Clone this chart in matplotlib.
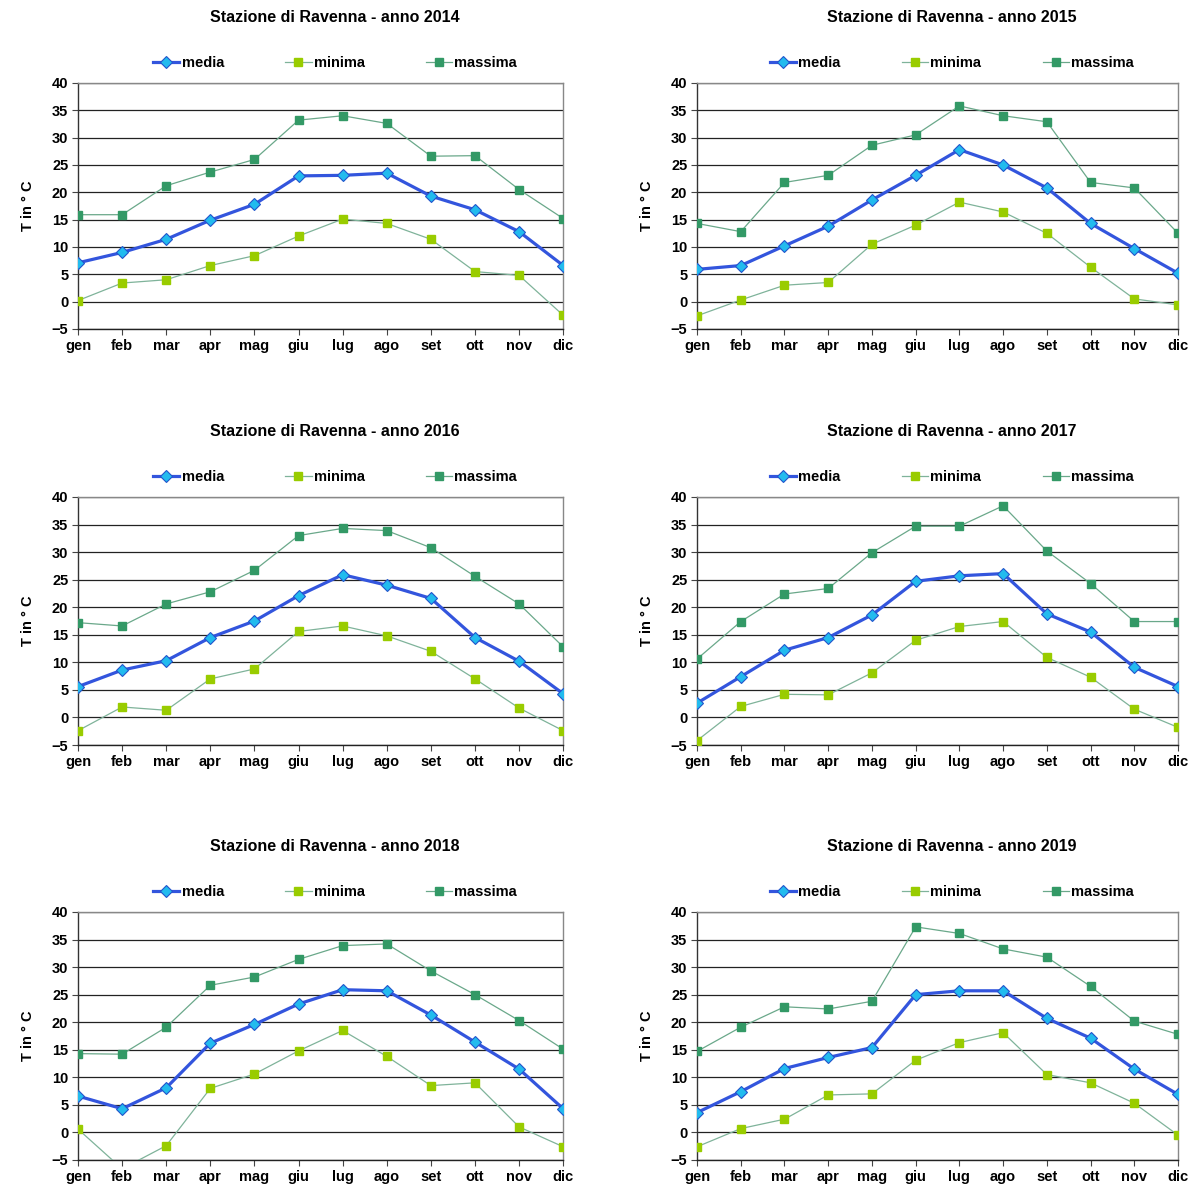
import numpy as np
import matplotlib
matplotlib.use('Agg')
import matplotlib.pyplot as plt

plt.rcParams['font.family'] = ['Liberation Sans', 'DejaVu Sans']
plt.rcParams['font.weight'] = 'bold'

mesi = ['gen', 'feb', 'mar', 'apr', 'mag', 'giu', 'lug', 'ago', 'set', 'ott', 'nov', 'dic']
anni = [2014, 2015, 2016, 2017, 2018, 2019]

# temperature medie mensili
media_2014 = [7.1, 9.0, 11.4, 14.9, 17.8, 23.0, 23.1, 23.5, 19.3, 16.8, 12.8, 6.6]
media_2015 = [5.9, 6.6, 10.2, 13.8, 18.6, 23.1, 27.8, 25.0, 20.8, 14.3, 9.7, 5.2]
media_2016 = [5.6, 8.6, 10.3, 14.5, 17.5, 22.1, 25.9, 24.0, 21.6, 14.5, 10.2, 4.3]
media_2017 = [2.6, 7.4, 12.2, 14.5, 18.6, 24.7, 25.7, 26.1, 18.8, 15.5, 9.1, 5.6]
media_2018 = [6.6, 4.3, 8.1, 16.2, 19.6, 23.3, 25.9, 25.7, 21.3, 16.4, 11.5, 4.3]
media_2019 = [3.6, 7.4, 11.6, 13.6, 15.4, 25.0, 25.7, 25.7, 20.7, 17.1, 11.5, 6.9]

# temperature minime
minima_2014 = [0.2, 3.4, 4.0, 6.6, 8.4, 12.0, 15.1, 14.3, 11.4, 5.5, 4.8, -2.5]
minima_2015 = [-2.6, 0.3, 3.0, 3.5, 10.5, 14.0, 18.2, 16.4, 12.5, 6.3, 0.5, -0.6]
minima_2016 = [-2.4, 1.9, 1.3, 7.0, 8.8, 15.6, 16.6, 14.8, 12.0, 7.0, 1.7, -2.4]
minima_2017 = [-4.2, 2.0, 4.2, 4.1, 8.1, 14.0, 16.5, 17.4, 10.9, 7.3, 1.5, -1.8]
minima_2018 = [0.6, -6.6, -2.4, 8.0, 10.6, 14.8, 18.5, 13.8, 8.5, 9.0, 1.0, -2.6]
minima_2019 = [-2.6, 0.7, 2.4, 6.8, 7.0, 13.1, 16.3, 18.1, 10.5, 9.0, 5.3, -0.5]

# temperature massime
massima_2014 = [15.9, 15.9, 21.2, 23.7, 26.0, 33.2, 34.0, 32.6, 26.6, 26.7, 20.5, 15.2]
massima_2015 = [14.3, 12.8, 21.8, 23.1, 28.6, 30.5, 35.8, 34.0, 32.9, 21.8, 20.8, 12.5]
massima_2016 = [17.2, 16.6, 20.6, 22.8, 26.7, 33.0, 34.3, 33.9, 30.8, 25.6, 20.6, 12.8]
massima_2017 = [10.6, 17.4, 22.4, 23.4, 29.9, 34.7, 34.7, 38.4, 30.2, 24.3, 17.4, 17.4]
massima_2018 = [14.3, 14.2, 19.1, 26.7, 28.2, 31.4, 33.9, 34.2, 29.3, 25.0, 20.3, 15.1]
massima_2019 = [14.7, 19.1, 22.8, 22.4, 23.8, 37.3, 36.1, 33.3, 31.8, 26.5, 20.2, 17.8]

medie = [media_2014, media_2015, media_2016, media_2017, media_2018, media_2019]
minime = [minima_2014, minima_2015, minima_2016, minima_2017, minima_2018, minima_2019]
massime = [massima_2014, massima_2015, massima_2016, massima_2017, massima_2018, massima_2019]

fig = plt.figure(figsize=(11.95, 11.85), dpi=100)

# posizioni dei riquadri (frazioni della figura)
lefts = [0.0653, 0.5833]
widths = [0.406, 0.4025]
bottoms = [0.7224, 0.3713, 0.0211]
heights = [0.2076, 0.2093, 0.2093]

x = np.arange(len(mesi))
for i, anno in enumerate(anni):
    r, c = divmod(i, 2)
    ax = fig.add_axes([lefts[c], bottoms[r], widths[c], heights[r]])

    for yv in range(-5, 41, 5):
        ax.axhline(yv, color='#222222', lw=0.9, zorder=1)

    ax.plot(x, medie[i], color='#3355dd', lw=2.3, marker='D', markersize=6.5,
            markerfacecolor='#22bbee', markeredgecolor='#2255cc', markeredgewidth=0.8,
            label='media', zorder=4)
    ax.plot(x, minime[i], color='#7fb39a', lw=0.9, marker='s', markersize=6,
            markerfacecolor='#99cc00', markeredgecolor='#99cc00',
            label='minima', zorder=3)
    ax.plot(x, massime[i], color='#6aa88a', lw=0.9, marker='s', markersize=6,
            markerfacecolor='#339966', markeredgecolor='#339966',
            label='massima', zorder=3)

    ax.set_xlim(0, 11)
    ax.set_ylim(-5, 40)
    ax.set_yticks(range(-5, 41, 5))
    ax.set_xticks(x)
    ax.set_xticklabels(mesi)
    ax.tick_params(axis='both', labelsize=10.5, length=4, width=0.8, colors='#444444',
                   labelcolor='black', pad=3)
    for lab in ax.get_xticklabels() + ax.get_yticklabels():
        lab.set_fontweight('bold')

    ax.spines['left'].set_color('#333333')
    ax.spines['bottom'].set_color('#222222')
    ax.spines['top'].set_color('#888888')
    ax.spines['right'].set_color('#888888')
    for s in ax.spines.values():
        s.set_linewidth(1.0)

    ax.set_ylabel('T in ° C', fontsize=10.5, fontweight='bold', labelpad=12)
    ax.set_title('Stazione di Ravenna - anno %d' % anno, fontsize=11.5,
                 fontweight='bold', pad=44, x=0.53)

    leg = ax.legend(loc='lower center', bbox_to_anchor=(0.53, 1.03), ncol=3,
                    frameon=False, fontsize=10.5, handlelength=1.8,
                    handletextpad=0.15, columnspacing=4.2, markerscale=0.9,
                    borderaxespad=0)
    for t in leg.get_texts():
        t.set_fontweight('bold')

fig.savefig('out.png', dpi=100)
